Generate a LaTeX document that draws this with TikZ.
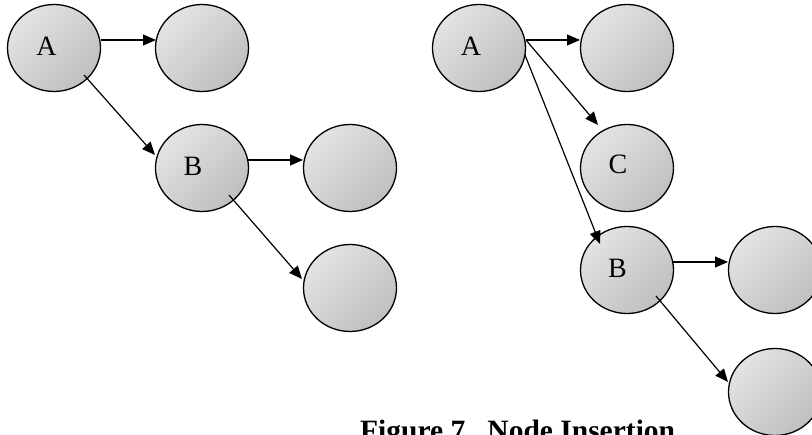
\documentclass[tikz,border=0pt]{standalone}
\usepackage{fontspec}
\setmainfont{Liberation Serif}
\usetikzlibrary{arrows.meta,calc,shapes.geometric}
\tikzset{
  cnode/.style={ellipse, draw=black, line width=1.3pt, minimum width=93pt, minimum height=87pt, inner sep=0pt,
    top color=gray!22, bottom color=gray!50, shading angle=45},
  lbl/.style={font=\fontsize{28}{30}\selectfont, inner sep=0pt},
  arr/.style={line width=1.2pt, -{Triangle[length=13pt,width=11pt]}},
}
\begin{document}
\begin{tikzpicture}[x=1pt,y=-1pt]
\useasboundingbox (0,0) rectangle (812,435);
\clip (0,0) rectangle (812,435);
% left diagram
\node[cnode, label={[lbl,xshift=-7.5pt,yshift=2pt]center:A}] (A) at (54,48) {};
\node[cnode] (T1) at (202,48) {};
\node[cnode, label={[lbl,xshift=-9pt,yshift=2pt]center:B}] (B) at (202,168) {};
\node[cnode] (R1) at (350,168) {};
\node[cnode] (D1) at (350,288) {};
\draw[arr] ($(A)+(47,-8)$) -- ($(T1)+(-46,-8)$);
\draw[arr] ($(A)+(30,27)$) -- ($(B)+(-47,-13)$);
\draw[arr] ($(B)+(46,-8)$) -- ($(R1)+(-47,-8)$);
\draw[arr] ($(B)+(27,27)$) -- ($(D1)+(-48,-9)$);
% right diagram
\node[cnode, label={[lbl,xshift=-8pt,yshift=2pt]center:A}] (A2) at (479,48) {};
\node[cnode] (T2) at (627,48) {};
\node[cnode, label={[lbl,xshift=-9pt,yshift=4pt]center:C}] (C2) at (627,168) {};
\node[cnode, label={[lbl,xshift=-9.5pt,yshift=2pt]center:B}] (B2) at (627,270) {};
\node[cnode] (R2) at (775,270) {};
\node[cnode] (D2) at (775,392) {};
\draw[arr] ($(A2)+(47,-8)$) -- ($(T2)+(-47,-8)$);
\draw[arr] ($(A2)+(47,-8)$) -- ($(C2)+(-29,-43)$);
\draw[arr] ($(A2)+(46,7)$) -- ($(B2)+(-27,-26)$);
\draw[arr] ($(B2)+(46,-8)$) -- ($(R2)+(-47,-8)$);
\draw[arr] ($(B2)+(29,26)$) -- ($(D2)+(-47,-10)$);
% caption
\node[anchor=base west, inner sep=0pt, font=\fontsize{29.5}{32}\selectfont\bfseries] (cap) at (360,441) {Figure 7.\ \ Node Insertion};
\end{tikzpicture}
\end{document}
